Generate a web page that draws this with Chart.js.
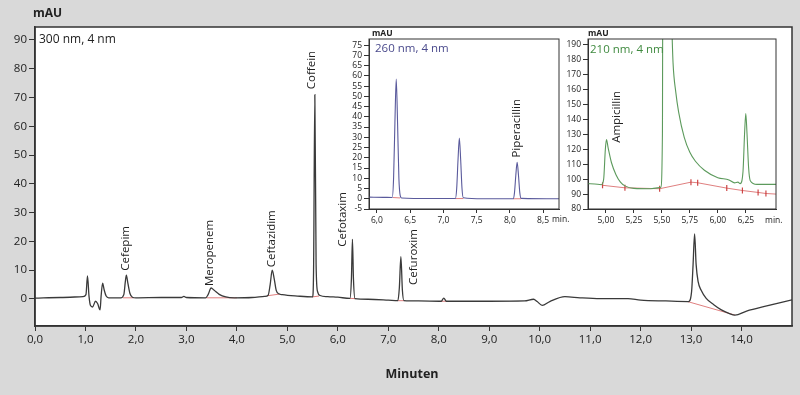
<!DOCTYPE html>
<html>
<head>
<meta charset="utf-8">
<title>Chromatogramm</title>
<script src="https://cdn.jsdelivr.net/npm/chart.js@4.4.1/dist/chart.umd.min.js"></script>
<style>
  html, body { margin: 0; padding: 0; background: #d9d9d9; }
  #wrap { position: relative; width: 800px; height: 395px; overflow: hidden; }
  #wrap canvas { position: absolute; }
</style>
</head>
<body>
<div id="wrap">
  <canvas id="main" width="800" height="395" style="left:0;top:0;width:800px;height:395px"></canvas>
  <canvas id="uv260" width="234" height="205" style="left:338px;top:28px;width:234px;height:205px"></canvas>
  <canvas id="uv210" width="232" height="205" style="left:560px;top:28px;width:232px;height:205px"></canvas>
</div>
<script>
// --- main chromatogram, 300 nm ---
const mainTime = [0.00, 0.50, 0.95, 1.01, 1.04, 1.07, 1.10, 1.14, 1.20, 1.24, 1.29, 1.31, 1.34, 1.37, 1.41, 1.46,
  1.70, 1.76, 1.79, 1.81, 1.84, 1.88, 1.93, 2.00, 2.50, 2.90, 2.95, 3.00, 3.38, 3.43, 3.49, 3.55, 3.65, 3.78, 3.95,
  4.30, 4.55, 4.62, 4.66, 4.70, 4.74, 4.78, 4.83, 4.90, 5.20, 5.50, 5.52, 5.545, 5.57, 5.60, 5.65, 5.80, 6.00,
  6.24, 6.27, 6.29, 6.31, 6.34, 6.60, 7.00, 7.19, 7.22, 7.25, 7.28, 7.31, 7.60, 8.05, 8.10, 8.15, 9.00, 9.70,
  9.88, 9.95, 10.05, 10.20, 10.50, 10.80, 11.20, 11.75, 12.00, 12.50, 12.95, 13.01, 13.04, 13.07, 13.10, 13.14,
  13.20, 13.30, 13.45, 13.60, 13.75, 13.87, 14.10, 14.50, 15.00];
const mainSignal = [0.3, 0.5, 0.8, 1.5, 8.0, 1.0, -2.3, -2.8, -0.8, -1.6, -3.8, 1.0, 5.5, 3.2, 1.0, 0.4,
  0.4, 1.5, 6.0, 8.3, 5.5, 2.0, 0.6, 0.4, 0.5, 0.5, 0.9, 0.5, 0.4, 1.5, 3.8, 3.0, 1.6, 0.7, 0.4,
  0.5, 0.9, 1.3, 5.0, 10.0, 7.0, 3.0, 1.8, 1.5, 1.0, 0.7, 10, 71, 12, 2.5, 1.2, 0.8, 0.6,
  0.2, 7, 20.7, 7, 0.1, -0.1, -0.4, -0.6, 4, 14.7, 3, -0.6, -0.7, -0.8, 0.3, -0.8, -0.8, -0.7,
  -0.1, -0.9, -2.2, -0.9, 0.8, 0.4, 0.1, 0.1, -0.4, -0.7, -0.9, 2.5, 12, 22.6, 12, 6,
  3.0, 0.2, -2.0, -3.8, -5.0, -5.6, -4.2, -2.4, -0.3];
const mainBaseTimes = [[1.74, 1.95], [3.40, 4.00], [4.60, 4.85], [5.49, 5.63], [6.24, 6.35], [7.18, 7.32], [8.04, 8.16], [12.93, 13.87]];
const mainBaseLevels = [[0.4, 0.4], [0.4, 0.4], [1.1, 1.7], [0.7, 1.0], [0.2, 0.1], [-0.6, -0.6], [-0.8, -0.8], [-0.9, -5.6]];
const mainPeakNames = ['Cefepim', 'Meropenem', 'Ceftazidim', 'Coffein', 'Cefotaxim', 'Cefuroxim'];
const mainPeakTimes = [1.81, 3.49, 4.70, 5.545, 6.29, 7.25];
const mainXTicks = [0, 1, 2, 3, 4, 5, 6, 7, 8, 9, 10, 11, 12, 13, 14];
const mainYTicks = [0, 10, 20, 30, 40, 50, 60, 70, 80, 90];

// --- inset 260 nm ---
const uv260Time = [5.88, 6.10, 6.23, 6.25, 6.27, 6.29, 6.31, 6.33, 6.35, 6.37, 6.80, 7.18, 7.20, 7.22, 7.24, 7.26, 7.28, 7.30,
  7.60, 8.05, 8.07, 8.09, 8.11, 8.13, 8.15, 8.17, 8.74];
const uv260Signal = [0.8, 0.7, 0.6, 10, 37, 58.5, 37, 10, 1.5, 0.4, 0.1, 0.1, 5, 19, 29.7, 19, 5, 0.5,
  0, 0, 3, 11.5, 17.8, 11.5, 3, 0.2, 0];
const uv260BaseTimes = [[6.24, 6.35], [7.18, 7.30], [8.05, 8.17]];
const uv260BaseLevels = [[0.6, 0.4], [0.1, 0.1], [0, 0]];
const uv260PeakNames = ['Piperacillin'];
const uv260PeakTimes = [8.11];
const uv260XTicks = [6.0, 6.5, 7.0, 7.5, 8.0, 8.5];
const uv260YTicks = [-5, 0, 5, 10, 15, 20, 25, 30, 35, 40, 45, 50, 55, 60, 65, 70, 75];

// --- inset 210 nm ---
const uv210Time = [4.84, 4.90, 4.96, 4.98, 4.995, 5.005, 5.02, 5.05, 5.09, 5.13, 5.17, 5.25, 5.40, 5.49, 5.505, 5.512,
  5.59, 5.60, 5.625, 5.65, 5.70, 5.75, 5.80, 5.88, 6.00, 6.10, 6.15, 6.18, 6.20, 6.225, 6.24, 6.25, 6.26, 6.275,
  6.29, 6.35, 6.52];
const uv210Signal = [97.0, 96.8, 96.3, 100, 120, 126.5, 121, 111, 103, 98, 95.5, 93.8, 93.6, 94.5, 130, 400,
  200, 178, 158, 145, 128, 118, 112, 106, 101, 99.5, 97.5, 98.0, 97.0, 105, 132, 144, 132, 108,
  99, 96.5, 96.5];
const uv210BaseTimes = [4.97, 5.17, 5.48, 5.76, 5.82, 6.08, 6.22, 6.36, 6.43, 6.52];
const uv210BaseLevels = [95.9, 94.2, 93.6, 98.0, 97.6, 94.0, 92.4, 91.1, 90.4, 90.0];
const uv210PeakNames = ['Ampicillin'];
const uv210PeakTimes = [5.005];
const uv210XTicks = [5.00, 5.25, 5.50, 5.75, 6.00, 6.25, 6.50];
const uv210YTicks = [80, 90, 100, 110, 120, 130, 140, 150, 160, 170, 180, 190];

const FONT = "'Open Sans', 'DejaVu Sans', sans-serif";
const INK = '#222';
const RED = 'rgba(212, 84, 84, 0.75)';

const toPoints = (xs, ys) => xs.map((x, i) => ({ x: x, y: ys[i] }));
const comma = (v, d) => v.toFixed(d).replace('.', ',');

function baselineSets(times, levels) {
  return times.map((t, i) => ({
    data: toPoints(t, levels[i]),
    borderColor: RED,
    borderWidth: 1,
    pointRadius: 0
  }));
}

// white plot area, grey page, box round the plot
function framePlugin(pageBg, lw) {
  return {
    id: 'frame',
    beforeDraw(chart) {
      const { ctx, chartArea: a } = chart;
      ctx.save();
      if (pageBg) {
        ctx.fillStyle = pageBg;
        ctx.fillRect(0, 0, chart.width, chart.height);
      }
      ctx.fillStyle = '#fff';
      ctx.fillRect(a.left, a.top, a.right - a.left, a.bottom - a.top);
      ctx.restore();
    },
    afterDraw(chart) {
      const { ctx, chartArea: a } = chart;
      ctx.save();
      ctx.strokeStyle = '#333';
      ctx.lineWidth = lw;
      ctx.strokeRect(a.left, a.top, a.right - a.left, a.bottom - a.top);
      ctx.restore();
    }
  };
}

// free texts + vertical peak names
function textPlugin(texts, names, times, xs, ys, shifts) {
  return {
    id: 'texts',
    afterDraw(chart) {
      const ctx = chart.ctx;
      const sx = chart.scales.x, sy = chart.scales.y;
      ctx.save();
      texts.forEach(t => {
        ctx.font = t.font;
        ctx.fillStyle = t.color || INK;
        ctx.textAlign = t.align || 'left';
        ctx.textBaseline = 'middle';
        ctx.fillText(t.text, t.x, t.y);
      });
      ctx.font = '11.5px ' + FONT;
      ctx.fillStyle = INK;
      ctx.textAlign = 'left';
      ctx.textBaseline = 'middle';
      names.forEach((name, i) => {
        const apex = ys[xs.indexOf(times[i])];
        const px = sx.getPixelForValue(times[i]) + shifts[i][0];
        const py = sy.getPixelForValue(apex) - shifts[i][1];
        ctx.save();
        ctx.translate(px, py);
        ctx.rotate(-Math.PI / 2);
        ctx.fillText(name, 0, 0);
        ctx.restore();
      });
      ctx.restore();
    }
  };
}

function scaleX(min, max, ticks, fmt, height, size, hideTick) {
  return {
    type: 'linear', min: min, max: max,
    afterBuildTicks: s => { s.ticks = ticks.map(v => ({ value: v })); },
    afterFit: s => { s.height = height; },
    ticks: { autoSkip: false, maxRotation: 0, padding: 2, color: INK, font: { family: FONT, size: size }, callback: fmt },
    grid: {
      drawOnChartArea: false, tickLength: size > 10 ? 5 : 4, tickWidth: 1,
      tickColor: c => (hideTick && c.tick && hideTick(c.tick.value)) ? 'rgba(0,0,0,0)' : '#333'
    },
    border: { color: '#333', width: size > 10 ? 1.5 : 1 }
  };
}

function scaleY(min, max, ticks, width, size) {
  return {
    type: 'linear', min: min, max: max,
    afterBuildTicks: s => { s.ticks = ticks.map(v => ({ value: v })); },
    afterFit: s => { s.width = width; },
    ticks: { autoSkip: false, padding: 2, color: INK, font: { family: FONT, size: size }, callback: v => String(v) },
    grid: { drawOnChartArea: false, tickLength: size > 10 ? 6 : 5, tickWidth: 1, tickColor: '#333' },
    border: { color: '#333', width: size > 10 ? 1.5 : 1 }
  };
}

const common = {
  responsive: false,
  animation: false,
  devicePixelRatio: 1,
  parsing: false,
  plugins: { legend: { display: false }, tooltip: { enabled: false } }
};

new Chart(document.getElementById('main'), {
  type: 'line',
  data: {
    datasets: [{
      data: toPoints(mainTime, mainSignal),
      borderColor: '#3a3a3a',
      borderWidth: 1.3,
      pointRadius: 0,
      cubicInterpolationMode: 'monotone'
    }].concat(baselineSets(mainBaseTimes, mainBaseLevels))
  },
  options: Object.assign({}, common, {
    layout: { padding: { top: 27, right: 8, left: 0, bottom: 0 } },
    scales: {
      x: scaleX(0, 15, mainXTicks, v => comma(v, 1), 69, 11.5),
      y: scaleY(-9.4, 94.5, mainYTicks, 35, 11.5)
    }
  }),
  plugins: [
    framePlugin('#d9d9d9', 1.5),
    textPlugin([
      { text: 'mAU', x: 33, y: 14, font: 'bold 12px ' + FONT },
      { text: '300 nm, 4 nm', x: 39, y: 40, font: '12px ' + FONT },
      { text: 'Minuten', x: 412, y: 374, align: 'center', font: 'bold 12.5px ' + FONT }
    ], mainPeakNames, mainPeakTimes, mainTime, mainSignal,
      [[-0.5, 4.4], [-1.5, 2], [0, 3], [-3.5, 5.4], [-9.5, -7.3], [13, -28.3]])
  ]
});

new Chart(document.getElementById('uv260'), {
  type: 'line',
  data: {
    datasets: [{
      data: toPoints(uv260Time, uv260Signal),
      borderColor: '#5a5a9c',
      borderWidth: 1.1,
      pointRadius: 0,
      cubicInterpolationMode: 'monotone'
    }].concat(baselineSets(uv260BaseTimes, uv260BaseLevels))
  },
  options: Object.assign({}, common, {
    layout: { padding: { top: 11, right: 13, left: 0, bottom: 0 } },
    scales: {
      x: scaleX(5.88, 8.74, uv260XTicks, v => comma(v, 1), 24, 8.5),
      y: scaleY(-5, 78, uv260YTicks, 31, 8.5)
    }
  }),
  plugins: [
    framePlugin(null, 1),
    textPlugin([
      { text: 'mAU', x: 34, y: 6, font: 'bold 8.5px ' + FONT },
      { text: '260 nm, 4 nm', x: 37, y: 21, color: '#4a4a8c', font: '11.5px ' + FONT },
      { text: 'min.', x: 214, y: 192, font: '8.5px ' + FONT }
    ], uv260PeakNames, uv260PeakTimes, uv260Time, uv260Signal, [[0, 4.7]])
  ]
});

new Chart(document.getElementById('uv210'), {
  type: 'line',
  data: {
    datasets: [{
      data: toPoints(uv210Time, uv210Signal),
      borderColor: '#5c9a5c',
      borderWidth: 1.1,
      pointRadius: 0,
      cubicInterpolationMode: 'monotone'
    }, {
      data: toPoints(uv210BaseTimes, uv210BaseLevels),
      borderColor: RED,
      borderWidth: 1,
      pointStyle: 'line',
      rotation: 90,
      pointRadius: c => c.dataIndex === uv210BaseTimes.length - 1 ? 0 : 3,
      pointBorderColor: 'rgba(200, 50, 50, 0.9)',
      pointBorderWidth: 1.2
    }]
  },
  options: Object.assign({}, common, {
    layout: { padding: { top: 11, right: 16, left: 0, bottom: 0 } },
    scales: {
      x: scaleX(4.84, 6.52, uv210XTicks, v => v === 6.5 ? 'min.' : comma(v, 2), 24, 8.5, v => v === 6.5),
      y: scaleY(80, 194, uv210YTicks, 28, 8.5)
    }
  }),
  plugins: [
    framePlugin(null, 1),
    textPlugin([
      { text: 'mAU', x: 28, y: 6, font: 'bold 8.5px ' + FONT },
      { text: '210 nm, 4 nm', x: 30, y: 22, color: '#3f8a3f', font: '11.5px ' + FONT }
    ], uv210PeakNames, uv210PeakTimes, uv210Time, uv210Signal, [[10, -3.2]])
  ]
});
</script>
</body>
</html>
